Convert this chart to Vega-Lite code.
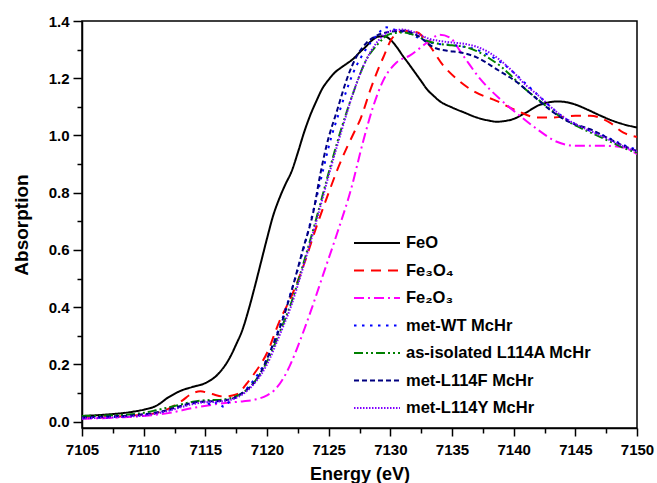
{
"$schema": "https://vega.github.io/schema/vega-lite/v6.json",
"width": 555, "height": 407,
"autosize": {"type": "none"},
"padding": {"left": 82, "top": 21, "right": 20, "bottom": 55},
"background": "white",
"config": {"view": {"stroke": "black", "strokeWidth": 1.5}, "font": "Liberation Sans"},
"datasets": {"d": [
{"E":7105,"A":0.02,"s":"FeO"},{"E":7107,"A":0.025,"s":"FeO"},{"E":7109,"A":0.034,"s":"FeO"},{"E":7110,"A":0.042,"s":"FeO"},{"E":7111,"A":0.055,"s":"FeO"},{"E":7112,"A":0.085,"s":"FeO"},{"E":7113,"A":0.108,"s":"FeO"},{"E":7114,"A":0.122,"s":"FeO"},{"E":7115,"A":0.135,"s":"FeO"},{"E":7116,"A":0.165,"s":"FeO"},{"E":7117,"A":0.225,"s":"FeO"},{"E":7117.5,"A":0.27,"s":"FeO"},{"E":7118,"A":0.32,"s":"FeO"},{"E":7118.5,"A":0.39,"s":"FeO"},{"E":7119,"A":0.47,"s":"FeO"},{"E":7119.5,"A":0.555,"s":"FeO"},{"E":7120,"A":0.64,"s":"FeO"},{"E":7120.5,"A":0.72,"s":"FeO"},{"E":7121,"A":0.78,"s":"FeO"},{"E":7121.5,"A":0.83,"s":"FeO"},{"E":7122,"A":0.875,"s":"FeO"},{"E":7122.5,"A":0.94,"s":"FeO"},{"E":7123,"A":1.01,"s":"FeO"},{"E":7123.5,"A":1.07,"s":"FeO"},{"E":7124,"A":1.12,"s":"FeO"},{"E":7124.5,"A":1.165,"s":"FeO"},{"E":7125,"A":1.195,"s":"FeO"},{"E":7125.5,"A":1.22,"s":"FeO"},{"E":7126,"A":1.237,"s":"FeO"},{"E":7126.5,"A":1.252,"s":"FeO"},{"E":7127,"A":1.268,"s":"FeO"},{"E":7127.5,"A":1.29,"s":"FeO"},{"E":7128,"A":1.31,"s":"FeO"},{"E":7128.5,"A":1.332,"s":"FeO"},{"E":7129,"A":1.345,"s":"FeO"},{"E":7129.5,"A":1.347,"s":"FeO"},{"E":7130,"A":1.335,"s":"FeO"},{"E":7130.5,"A":1.31,"s":"FeO"},{"E":7131,"A":1.279,"s":"FeO"},{"E":7131.5,"A":1.25,"s":"FeO"},{"E":7132,"A":1.22,"s":"FeO"},{"E":7132.5,"A":1.19,"s":"FeO"},{"E":7133,"A":1.16,"s":"FeO"},{"E":7133.5,"A":1.139,"s":"FeO"},{"E":7134,"A":1.12,"s":"FeO"},{"E":7135,"A":1.098,"s":"FeO"},{"E":7136,"A":1.08,"s":"FeO"},{"E":7137,"A":1.063,"s":"FeO"},{"E":7138,"A":1.052,"s":"FeO"},{"E":7138.6,"A":1.048,"s":"FeO"},{"E":7139,"A":1.049,"s":"FeO"},{"E":7140,"A":1.058,"s":"FeO"},{"E":7141,"A":1.08,"s":"FeO"},{"E":7142,"A":1.105,"s":"FeO"},{"E":7143,"A":1.117,"s":"FeO"},{"E":7143.5,"A":1.119,"s":"FeO"},{"E":7144,"A":1.118,"s":"FeO"},{"E":7145,"A":1.108,"s":"FeO"},{"E":7146,"A":1.09,"s":"FeO"},{"E":7147,"A":1.07,"s":"FeO"},{"E":7148,"A":1.052,"s":"FeO"},{"E":7149,"A":1.038,"s":"FeO"},{"E":7150,"A":1.028,"s":"FeO"},
{"E":7105,"A":0.012,"s":"Fe₃O₄"},{"E":7108,"A":0.018,"s":"Fe₃O₄"},{"E":7110,"A":0.025,"s":"Fe₃O₄"},{"E":7111,"A":0.03,"s":"Fe₃O₄"},{"E":7112,"A":0.045,"s":"Fe₃O₄"},{"E":7113,"A":0.07,"s":"Fe₃O₄"},{"E":7114,"A":0.1,"s":"Fe₃O₄"},{"E":7114.6,"A":0.106,"s":"Fe₃O₄"},{"E":7115.5,"A":0.097,"s":"Fe₃O₄"},{"E":7116.5,"A":0.088,"s":"Fe₃O₄"},{"E":7117.5,"A":0.095,"s":"Fe₃O₄"},{"E":7118.3,"A":0.13,"s":"Fe₃O₄"},{"E":7119,"A":0.17,"s":"Fe₃O₄"},{"E":7120,"A":0.24,"s":"Fe₃O₄"},{"E":7121,"A":0.35,"s":"Fe₃O₄"},{"E":7122,"A":0.44,"s":"Fe₃O₄"},{"E":7123,"A":0.55,"s":"Fe₃O₄"},{"E":7124,"A":0.68,"s":"Fe₃O₄"},{"E":7125,"A":0.8,"s":"Fe₃O₄"},{"E":7125.7,"A":0.88,"s":"Fe₃O₄"},{"E":7126.5,"A":0.96,"s":"Fe₃O₄"},{"E":7127,"A":1.005,"s":"Fe₃O₄"},{"E":7127.6,"A":1.06,"s":"Fe₃O₄"},{"E":7128.4,"A":1.162,"s":"Fe₃O₄"},{"E":7129,"A":1.23,"s":"Fe₃O₄"},{"E":7129.5,"A":1.28,"s":"Fe₃O₄"},{"E":7130.1,"A":1.337,"s":"Fe₃O₄"},{"E":7130.5,"A":1.355,"s":"Fe₃O₄"},{"E":7131.1,"A":1.366,"s":"Fe₃O₄"},{"E":7132.2,"A":1.36,"s":"Fe₃O₄"},{"E":7133,"A":1.325,"s":"Fe₃O₄"},{"E":7134.3,"A":1.244,"s":"Fe₃O₄"},{"E":7135.4,"A":1.197,"s":"Fe₃O₄"},{"E":7136.7,"A":1.156,"s":"Fe₃O₄"},{"E":7138.6,"A":1.121,"s":"Fe₃O₄"},{"E":7140.3,"A":1.086,"s":"Fe₃O₄"},{"E":7141.9,"A":1.063,"s":"Fe₃O₄"},{"E":7143.2,"A":1.063,"s":"Fe₃O₄"},{"E":7145,"A":1.069,"s":"Fe₃O₄"},{"E":7146.2,"A":1.069,"s":"Fe₃O₄"},{"E":7147.8,"A":1.045,"s":"Fe₃O₄"},{"E":7148.9,"A":1.01,"s":"Fe₃O₄"},{"E":7150,"A":0.995,"s":"Fe₃O₄"},
{"E":7105,"A":0.01,"s":"Fe₂O₃"},{"E":7108,"A":0.015,"s":"Fe₂O₃"},{"E":7110,"A":0.02,"s":"Fe₂O₃"},{"E":7112,"A":0.03,"s":"Fe₂O₃"},{"E":7114,"A":0.048,"s":"Fe₂O₃"},{"E":7116,"A":0.062,"s":"Fe₂O₃"},{"E":7117,"A":0.067,"s":"Fe₂O₃"},{"E":7118,"A":0.071,"s":"Fe₂O₃"},{"E":7119,"A":0.077,"s":"Fe₂O₃"},{"E":7120,"A":0.092,"s":"Fe₂O₃"},{"E":7120.6,"A":0.11,"s":"Fe₂O₃"},{"E":7121.3,"A":0.15,"s":"Fe₂O₃"},{"E":7122,"A":0.21,"s":"Fe₂O₃"},{"E":7122.4,"A":0.252,"s":"Fe₂O₃"},{"E":7123.5,"A":0.38,"s":"Fe₂O₃"},{"E":7124.6,"A":0.52,"s":"Fe₂O₃"},{"E":7125.7,"A":0.66,"s":"Fe₂O₃"},{"E":7126.8,"A":0.81,"s":"Fe₂O₃"},{"E":7127.8,"A":0.98,"s":"Fe₂O₃"},{"E":7128.6,"A":1.1,"s":"Fe₂O₃"},{"E":7129.4,"A":1.19,"s":"Fe₂O₃"},{"E":7130.5,"A":1.255,"s":"Fe₂O₃"},{"E":7131.6,"A":1.28,"s":"Fe₂O₃"},{"E":7133,"A":1.325,"s":"Fe₂O₃"},{"E":7134,"A":1.352,"s":"Fe₂O₃"},{"E":7134.8,"A":1.343,"s":"Fe₂O₃"},{"E":7135.9,"A":1.279,"s":"Fe₂O₃"},{"E":7137.3,"A":1.197,"s":"Fe₂O₃"},{"E":7138.9,"A":1.127,"s":"Fe₂O₃"},{"E":7140.5,"A":1.069,"s":"Fe₂O₃"},{"E":7141.9,"A":1.022,"s":"Fe₂O₃"},{"E":7143.5,"A":0.978,"s":"Fe₂O₃"},{"E":7145.1,"A":0.964,"s":"Fe₂O₃"},{"E":7147.3,"A":0.964,"s":"Fe₂O₃"},{"E":7148.9,"A":0.958,"s":"Fe₂O₃"},{"E":7150,"A":0.935,"s":"Fe₂O₃"},
{"E":7105,"A":0.012,"s":"met-WT McHr"},{"E":7107,"A":0.015,"s":"met-WT McHr"},{"E":7109,"A":0.02,"s":"met-WT McHr"},{"E":7110,"A":0.024,"s":"met-WT McHr"},{"E":7111,"A":0.03,"s":"met-WT McHr"},{"E":7112,"A":0.04,"s":"met-WT McHr"},{"E":7113,"A":0.052,"s":"met-WT McHr"},{"E":7114,"A":0.064,"s":"met-WT McHr"},{"E":7115,"A":0.07,"s":"met-WT McHr"},{"E":7115.5,"A":0.058,"s":"met-WT McHr"},{"E":7116,"A":0.068,"s":"met-WT McHr"},{"E":7116.5,"A":0.052,"s":"met-WT McHr"},{"E":7117,"A":0.072,"s":"met-WT McHr"},{"E":7117.5,"A":0.085,"s":"met-WT McHr"},{"E":7118,"A":0.1,"s":"met-WT McHr"},{"E":7119,"A":0.15,"s":"met-WT McHr"},{"E":7120,"A":0.22,"s":"met-WT McHr"},{"E":7121,"A":0.33,"s":"met-WT McHr"},{"E":7122,"A":0.46,"s":"met-WT McHr"},{"E":7123,"A":0.61,"s":"met-WT McHr"},{"E":7124,"A":0.78,"s":"met-WT McHr"},{"E":7124.5,"A":0.87,"s":"met-WT McHr"},{"E":7125,"A":0.96,"s":"met-WT McHr"},{"E":7126,"A":1.1,"s":"met-WT McHr"},{"E":7127,"A":1.22,"s":"met-WT McHr"},{"E":7128,"A":1.3,"s":"met-WT McHr"},{"E":7129,"A":1.355,"s":"met-WT McHr"},{"E":7129.6,"A":1.378,"s":"met-WT McHr"},{"E":7130.5,"A":1.368,"s":"met-WT McHr"},{"E":7131.5,"A":1.357,"s":"met-WT McHr"},{"E":7132.5,"A":1.337,"s":"met-WT McHr"},{"E":7133.5,"A":1.322,"s":"met-WT McHr"},{"E":7135,"A":1.316,"s":"met-WT McHr"},{"E":7136,"A":1.31,"s":"met-WT McHr"},{"E":7137,"A":1.3,"s":"met-WT McHr"},{"E":7138,"A":1.28,"s":"met-WT McHr"},{"E":7139,"A":1.255,"s":"met-WT McHr"},{"E":7140,"A":1.22,"s":"met-WT McHr"},{"E":7141,"A":1.18,"s":"met-WT McHr"},{"E":7142,"A":1.14,"s":"met-WT McHr"},{"E":7143,"A":1.1,"s":"met-WT McHr"},{"E":7144,"A":1.065,"s":"met-WT McHr"},{"E":7145,"A":1.04,"s":"met-WT McHr"},{"E":7146,"A":1.02,"s":"met-WT McHr"},{"E":7147,"A":1.005,"s":"met-WT McHr"},{"E":7148,"A":0.985,"s":"met-WT McHr"},{"E":7149,"A":0.965,"s":"met-WT McHr"},{"E":7150,"A":0.95,"s":"met-WT McHr"},
{"E":7105,"A":0.02,"s":"as-isolated L114A McHr"},{"E":7107,"A":0.022,"s":"as-isolated L114A McHr"},{"E":7109,"A":0.026,"s":"as-isolated L114A McHr"},{"E":7110,"A":0.031,"s":"as-isolated L114A McHr"},{"E":7111,"A":0.04,"s":"as-isolated L114A McHr"},{"E":7112,"A":0.05,"s":"as-isolated L114A McHr"},{"E":7113,"A":0.06,"s":"as-isolated L114A McHr"},{"E":7114,"A":0.07,"s":"as-isolated L114A McHr"},{"E":7115,"A":0.075,"s":"as-isolated L114A McHr"},{"E":7116,"A":0.076,"s":"as-isolated L114A McHr"},{"E":7117,"A":0.082,"s":"as-isolated L114A McHr"},{"E":7118,"A":0.1,"s":"as-isolated L114A McHr"},{"E":7119,"A":0.14,"s":"as-isolated L114A McHr"},{"E":7120,"A":0.21,"s":"as-isolated L114A McHr"},{"E":7121,"A":0.31,"s":"as-isolated L114A McHr"},{"E":7122,"A":0.42,"s":"as-isolated L114A McHr"},{"E":7123,"A":0.56,"s":"as-isolated L114A McHr"},{"E":7124,"A":0.71,"s":"as-isolated L114A McHr"},{"E":7125,"A":0.87,"s":"as-isolated L114A McHr"},{"E":7126,"A":1.02,"s":"as-isolated L114A McHr"},{"E":7127,"A":1.15,"s":"as-isolated L114A McHr"},{"E":7128,"A":1.26,"s":"as-isolated L114A McHr"},{"E":7129,"A":1.32,"s":"as-isolated L114A McHr"},{"E":7130,"A":1.355,"s":"as-isolated L114A McHr"},{"E":7131,"A":1.36,"s":"as-isolated L114A McHr"},{"E":7132,"A":1.35,"s":"as-isolated L114A McHr"},{"E":7133,"A":1.33,"s":"as-isolated L114A McHr"},{"E":7134,"A":1.32,"s":"as-isolated L114A McHr"},{"E":7135,"A":1.315,"s":"as-isolated L114A McHr"},{"E":7136,"A":1.31,"s":"as-isolated L114A McHr"},{"E":7137,"A":1.295,"s":"as-isolated L114A McHr"},{"E":7138,"A":1.27,"s":"as-isolated L114A McHr"},{"E":7139,"A":1.24,"s":"as-isolated L114A McHr"},{"E":7140,"A":1.2,"s":"as-isolated L114A McHr"},{"E":7141,"A":1.16,"s":"as-isolated L114A McHr"},{"E":7142,"A":1.125,"s":"as-isolated L114A McHr"},{"E":7143,"A":1.09,"s":"as-isolated L114A McHr"},{"E":7144,"A":1.06,"s":"as-isolated L114A McHr"},{"E":7145,"A":1.035,"s":"as-isolated L114A McHr"},{"E":7146,"A":1.015,"s":"as-isolated L114A McHr"},{"E":7147,"A":0.995,"s":"as-isolated L114A McHr"},{"E":7148,"A":0.975,"s":"as-isolated L114A McHr"},{"E":7149,"A":0.955,"s":"as-isolated L114A McHr"},{"E":7150,"A":0.94,"s":"as-isolated L114A McHr"},
{"E":7105,"A":0.015,"s":"met-L114F McHr"},{"E":7107,"A":0.018,"s":"met-L114F McHr"},{"E":7109,"A":0.022,"s":"met-L114F McHr"},{"E":7110,"A":0.026,"s":"met-L114F McHr"},{"E":7111,"A":0.032,"s":"met-L114F McHr"},{"E":7112,"A":0.042,"s":"met-L114F McHr"},{"E":7113,"A":0.055,"s":"met-L114F McHr"},{"E":7114,"A":0.066,"s":"met-L114F McHr"},{"E":7115,"A":0.071,"s":"met-L114F McHr"},{"E":7116,"A":0.072,"s":"met-L114F McHr"},{"E":7117,"A":0.078,"s":"met-L114F McHr"},{"E":7118,"A":0.1,"s":"met-L114F McHr"},{"E":7118.6,"A":0.12,"s":"met-L114F McHr"},{"E":7119.2,"A":0.15,"s":"met-L114F McHr"},{"E":7120.3,"A":0.25,"s":"met-L114F McHr"},{"E":7121.3,"A":0.36,"s":"met-L114F McHr"},{"E":7122.1,"A":0.474,"s":"met-L114F McHr"},{"E":7122.9,"A":0.6,"s":"met-L114F McHr"},{"E":7123.8,"A":0.742,"s":"met-L114F McHr"},{"E":7124.3,"A":0.86,"s":"met-L114F McHr"},{"E":7124.8,"A":0.96,"s":"met-L114F McHr"},{"E":7125.7,"A":1.09,"s":"met-L114F McHr"},{"E":7126.5,"A":1.2,"s":"met-L114F McHr"},{"E":7127.3,"A":1.279,"s":"met-L114F McHr"},{"E":7128.1,"A":1.325,"s":"met-L114F McHr"},{"E":7128.9,"A":1.349,"s":"met-L114F McHr"},{"E":7129.7,"A":1.36,"s":"met-L114F McHr"},{"E":7130.5,"A":1.365,"s":"met-L114F McHr"},{"E":7131.1,"A":1.366,"s":"met-L114F McHr"},{"E":7132.2,"A":1.349,"s":"met-L114F McHr"},{"E":7133.5,"A":1.308,"s":"met-L114F McHr"},{"E":7134.6,"A":1.296,"s":"met-L114F McHr"},{"E":7135.7,"A":1.29,"s":"met-L114F McHr"},{"E":7137,"A":1.273,"s":"met-L114F McHr"},{"E":7138.6,"A":1.232,"s":"met-L114F McHr"},{"E":7140.3,"A":1.185,"s":"met-L114F McHr"},{"E":7141.9,"A":1.127,"s":"met-L114F McHr"},{"E":7143.2,"A":1.081,"s":"met-L114F McHr"},{"E":7144.6,"A":1.045,"s":"met-L114F McHr"},{"E":7146.2,"A":1.022,"s":"met-L114F McHr"},{"E":7147.8,"A":0.987,"s":"met-L114F McHr"},{"E":7148.9,"A":0.964,"s":"met-L114F McHr"},{"E":7150,"A":0.946,"s":"met-L114F McHr"},
{"E":7105,"A":0.012,"s":"met-L114Y McHr"},{"E":7108,"A":0.016,"s":"met-L114Y McHr"},{"E":7110,"A":0.022,"s":"met-L114Y McHr"},{"E":7111,"A":0.028,"s":"met-L114Y McHr"},{"E":7112,"A":0.038,"s":"met-L114Y McHr"},{"E":7113,"A":0.05,"s":"met-L114Y McHr"},{"E":7114,"A":0.062,"s":"met-L114Y McHr"},{"E":7115,"A":0.068,"s":"met-L114Y McHr"},{"E":7116,"A":0.07,"s":"met-L114Y McHr"},{"E":7117,"A":0.076,"s":"met-L114Y McHr"},{"E":7118,"A":0.095,"s":"met-L114Y McHr"},{"E":7119,"A":0.135,"s":"met-L114Y McHr"},{"E":7120,"A":0.2,"s":"met-L114Y McHr"},{"E":7121,"A":0.3,"s":"met-L114Y McHr"},{"E":7122,"A":0.41,"s":"met-L114Y McHr"},{"E":7123,"A":0.55,"s":"met-L114Y McHr"},{"E":7124,"A":0.7,"s":"met-L114Y McHr"},{"E":7125,"A":0.86,"s":"met-L114Y McHr"},{"E":7126,"A":1.01,"s":"met-L114Y McHr"},{"E":7127,"A":1.15,"s":"met-L114Y McHr"},{"E":7128,"A":1.26,"s":"met-L114Y McHr"},{"E":7129,"A":1.33,"s":"met-L114Y McHr"},{"E":7130,"A":1.365,"s":"met-L114Y McHr"},{"E":7131,"A":1.37,"s":"met-L114Y McHr"},{"E":7132,"A":1.36,"s":"met-L114Y McHr"},{"E":7133,"A":1.34,"s":"met-L114Y McHr"},{"E":7134,"A":1.33,"s":"met-L114Y McHr"},{"E":7135,"A":1.325,"s":"met-L114Y McHr"},{"E":7136,"A":1.32,"s":"met-L114Y McHr"},{"E":7137,"A":1.31,"s":"met-L114Y McHr"},{"E":7138,"A":1.29,"s":"met-L114Y McHr"},{"E":7139,"A":1.26,"s":"met-L114Y McHr"},{"E":7140,"A":1.22,"s":"met-L114Y McHr"},{"E":7141,"A":1.175,"s":"met-L114Y McHr"},{"E":7142,"A":1.14,"s":"met-L114Y McHr"},{"E":7143,"A":1.1,"s":"met-L114Y McHr"},{"E":7144,"A":1.065,"s":"met-L114Y McHr"},{"E":7145,"A":1.04,"s":"met-L114Y McHr"},{"E":7146,"A":1.02,"s":"met-L114Y McHr"},{"E":7147,"A":1.0,"s":"met-L114Y McHr"},{"E":7148,"A":0.98,"s":"met-L114Y McHr"},{"E":7149,"A":0.96,"s":"met-L114Y McHr"},{"E":7150,"A":0.945,"s":"met-L114Y McHr"}
]},
"data": {"name": "d"},
"layer": [
{"mark": {"type": "line", "strokeWidth": 2, "interpolate": "monotone", "clip": true},
 "encoding": {
  "x": {"field": "E", "type": "quantitative",
   "scale": {"domain": [7105, 7150], "nice": false, "zero": false},
   "axis": {"values": [7105,7110,7115,7120,7125,7130,7135,7140,7145,7150], "format": "d", "grid": false, "domainColor": "black", "domainWidth": 1.5, "tickColor": "black", "tickWidth": 1.5, "tickSize": 8, "labelFont": "Liberation Sans", "labelFontWeight": "bold", "labelFontSize": 15, "labelColor": "black", "labelPadding": 6, "labelFlush": false, "labelOverlap": false, "title": "Energy (eV)", "titleFont": "Liberation Sans", "titleFontWeight": "bold", "titleFontSize": 18, "titleColor": "black", "titlePadding": 8}},
  "y": {"field": "A", "type": "quantitative",
   "scale": {"domain": [-0.022, 1.4], "nice": false, "zero": false},
   "axis": {"values": [0,0.2,0.4,0.6,0.8,1.0,1.2,1.4], "format": ".1f", "grid": false, "domainColor": "black", "domainWidth": 1.5, "tickColor": "black", "tickWidth": 1.5, "tickSize": 9, "labelFont": "Liberation Sans", "labelFontWeight": "bold", "labelFontSize": 15, "labelColor": "black", "labelPadding": 4, "labelFlush": false, "labelOverlap": false, "title": "Absorption", "titleFont": "Liberation Sans", "titleFontWeight": "bold", "titleFontSize": 19, "titleColor": "black", "titlePadding": 17}},
  "color": {"field": "s", "type": "nominal",
   "scale": {"domain": ["FeO","Fe₃O₄","Fe₂O₃","met-WT McHr","as-isolated L114A McHr","met-L114F McHr","met-L114Y McHr"],
             "range": ["#000000","#ff0000","#ff00ff","#0000ff","#008000","#000080","#8000ff"]},
   "legend": {"orient": "none", "legendX": 271, "legendY": 211, "title": null, "symbolType": "stroke", "symbolSize": 2116, "symbolStrokeWidth": 2, "labelFont": "Liberation Sans", "labelFontWeight": "bold", "labelFontSize": 16.5, "labelColor": "black", "labelOffset": 5, "rowPadding": 5.5, "clipHeight": 22, "labelLimit": 400}},
  "strokeDash": {"field": "s", "type": "nominal",
   "scale": {"domain": ["FeO","Fe₃O₄","Fe₂O₃","met-WT McHr","as-isolated L114A McHr","met-L114F McHr","met-L114Y McHr"],
             "range": [[1,0],[10,7],[10,4,2,4],[2.5,5.5],[9,3,2,3,2,3],[5,3],[1.5,1.5]]},
   "legend": {"orient": "none", "legendX": 271, "legendY": 211, "title": null, "symbolType": "stroke", "symbolSize": 2116, "symbolStrokeWidth": 2, "labelFont": "Liberation Sans", "labelFontWeight": "bold", "labelFontSize": 16.5, "labelColor": "black", "labelOffset": 5, "rowPadding": 5.5, "clipHeight": 22, "labelLimit": 400}}
 }},
{"mark": {"type": "point", "opacity": 0},
 "encoding": {
  "x": {"field": "E", "type": "quantitative",
   "axis": {"orient": "bottom", "values": [7107.5,7112.5,7117.5,7122.5,7127.5,7132.5,7137.5,7142.5,7147.5], "labels": false, "domain": false, "grid": false, "tickColor": "black", "tickWidth": 1.5, "tickSize": 5, "title": null}},
  "y": {"field": "A", "type": "quantitative",
   "axis": {"orient": "left", "values": [0.1,0.3,0.5,0.7,0.9,1.1,1.3], "labels": false, "domain": false, "grid": false, "tickColor": "black", "tickWidth": 1.5, "tickSize": 5, "title": null}}
 }}
],
"resolve": {"axis": {"x": "independent", "y": "independent"}}
}
